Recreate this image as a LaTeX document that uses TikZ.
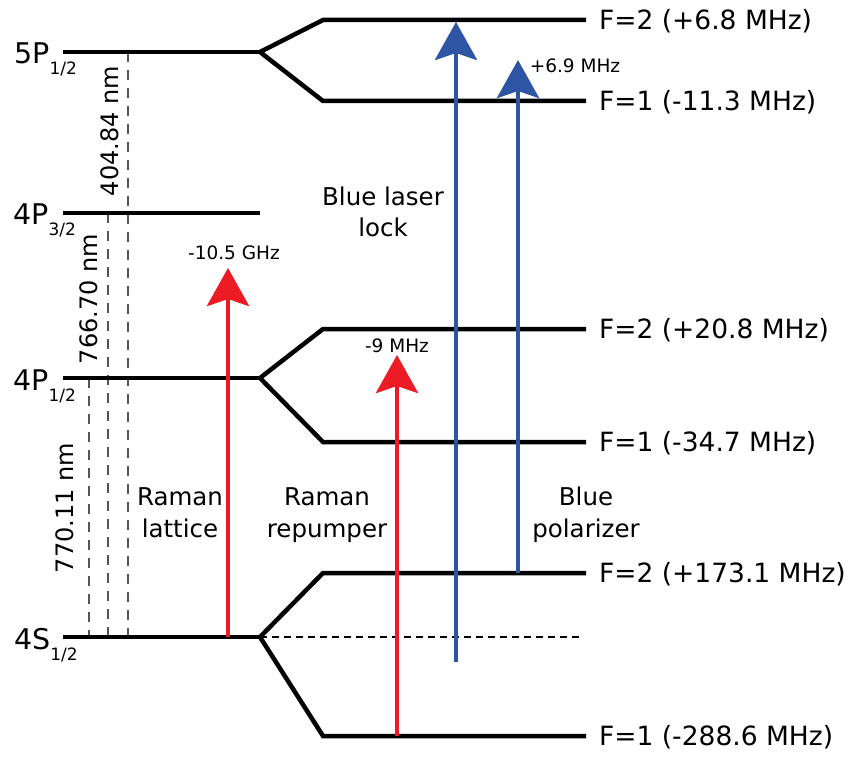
\documentclass[tikz,border=0pt]{standalone}
\usepackage{fontspec}
\setmainfont{DejaVu Sans}
\usetikzlibrary{arrows.meta}
\definecolor{lred}{RGB}{237,28,36}
\definecolor{lblue}{RGB}{46,84,164}
\definecolor{dgray}{RGB}{85,85,85}
\tikzset{
  levelline/.style={line width=4.5pt, line join=miter},
  guide/.style={dgray, line width=2pt, dash pattern=on 10pt off 8pt},
  zeroline/.style={black, line width=1.4pt, dash pattern=on 7pt off 5pt},
  redarrow/.style={lred, line width=4.8pt, -{Stealth[length=38pt,width=42pt,inset=7pt]}},
  bluearrow/.style={lblue, line width=4.8pt, -{Stealth[length=38pt,width=42pt,inset=7pt]}},
  biglab/.style={font=\fontsize{28.5}{28.5}\selectfont, anchor=base west, inner sep=0pt},
  flab/.style={font=\fontsize{26.5}{26.5}\selectfont, anchor=base west, inner sep=0pt},
  desc/.style={font=\fontsize{24.5}{32}\selectfont, align=center, anchor=base, inner sep=0pt},
  smalllab/.style={font=\fontsize{18.5}{18.5}\selectfont, anchor=base, inner sep=0pt},
  wavelab/.style={font=\fontsize{24}{24}\selectfont, rotate=90, inner sep=0pt}
}
\newcommand{\subl}[1]{\raisebox{-11pt}{\fontsize{17}{17}\selectfont #1}}
\begin{document}
\begin{tikzpicture}[x=1pt,y=-1pt]
\useasboundingbox (0,0) rectangle (848,759);

% fine structure levels
\coordinate (p5a) at (63,52);   \coordinate (p5b) at (260,52);
\coordinate (p3a) at (63,213);  \coordinate (p3b) at (260,213);
\coordinate (p1a) at (63,378);  \coordinate (p1b) at (260,378);
\coordinate (s1a) at (63,637);  \coordinate (s1b) at (260,637);

% hyperfine corners and ends
\coordinate (p5u) at (323,20);  \coordinate (p5ue) at (586,20);
\coordinate (p5l) at (323,101); \coordinate (p5le) at (586,101);
\coordinate (p1u) at (323,329); \coordinate (p1ue) at (586,329);
\coordinate (p1l) at (323,442); \coordinate (p1le) at (586,442);
\coordinate (s1u) at (323,573); \coordinate (s1ue) at (586,573);
\coordinate (s1l) at (323,736); \coordinate (s1le) at (586,736);
\coordinate (s1z) at (582,637);

% guide lines
\coordinate (g1t) at (128,52);  \coordinate (g1b) at (128,637);
\coordinate (g2t) at (108,213); \coordinate (g2b) at (108,637);
\coordinate (g3t) at (89,378);  \coordinate (g3b) at (89,637);
\draw[guide] (g1t) -- (g1b);
\draw[guide] (g2t) -- (g2b);
\draw[guide] (g3t) -- (g3b);

\draw[zeroline] (s1b) -- (s1z);

\draw[levelline] (p5a) -- (p5b);
\draw[levelline] (p3a) -- (p3b);
\draw[levelline] (p1a) -- (p1b);
\draw[levelline] (s1a) -- (s1b);
\draw[levelline] (p5ue) -- (p5u) -- (p5b) -- (p5l) -- (p5le);
\draw[levelline] (p1ue) -- (p1u) -- (p1b) -- (p1l) -- (p1le);
\draw[levelline] (s1ue) -- (s1u) -- (s1b) -- (s1l) -- (s1le);

% level labels
\node[biglab] (n5p) at (14,64) {5P\subl{1/2}};
\node[biglab] (n4p3) at (13,225) {4P\subl{3/2}};
\node[biglab] (n4p1) at (13,390) {4P\subl{1/2}};
\node[biglab] (n4s) at (14,649) {4S\subl{1/2}};

% wavelength labels
\node[wavelab] (w1) at (110,131) {404.84 nm};
\node[wavelab] (w2) at (89,299) {766.70 nm};
\node[wavelab] (w3) at (65,508) {770.11 nm};

% hyperfine labels
\node[flab] (f1) at (599,29.5) {F=2 (+6.8 MHz)};
\node[flab] (f2) at (599,110.5) {F=1 (-11.3 MHz)};
\node[flab] (f3) at (599,338.5) {F=2 (+20.8 MHz)};
\node[flab] (f4) at (599,451.5) {F=1 (-34.7 MHz)};
\node[flab] (f5) at (599,582.5) {F=2 (+173.1 MHz)};
\node[flab] (f6) at (599,745.5) {F=1 (-288.6 MHz)};

% arrows
\coordinate (ra1s) at (228,637); \coordinate (ra1t) at (228,268);
\coordinate (ra2s) at (397,736); \coordinate (ra2t) at (397,355);
\coordinate (ba1s) at (456,662); \coordinate (ba1t) at (456,22);
\coordinate (ba2s) at (518,573); \coordinate (ba2t) at (518,60);
\draw[redarrow] (ra1s) -- (ra1t);
\draw[redarrow] (ra2s) -- (ra2t);
\draw[bluearrow] (ba1s) -- (ba1t);
\draw[bluearrow] (ba2s) -- (ba2t);

% arrow labels
\node[smalllab] (d1) at (234,259) {-10.5 GHz};
\node[smalllab] (d2) at (397,352) {-9 MHz};
\node[smalllab] (d3) at (575,73) {+6.9 MHz};

\node[desc] (t1) at (180,537) {Raman\\lattice};
\node[desc] (t2) at (327,537) {Raman\\repumper};
\node[desc] (t3) at (383,237) {Blue laser\\lock};
\node[desc] (t4) at (586,537) {Blue\\polarizer};
\end{tikzpicture}
\end{document}
